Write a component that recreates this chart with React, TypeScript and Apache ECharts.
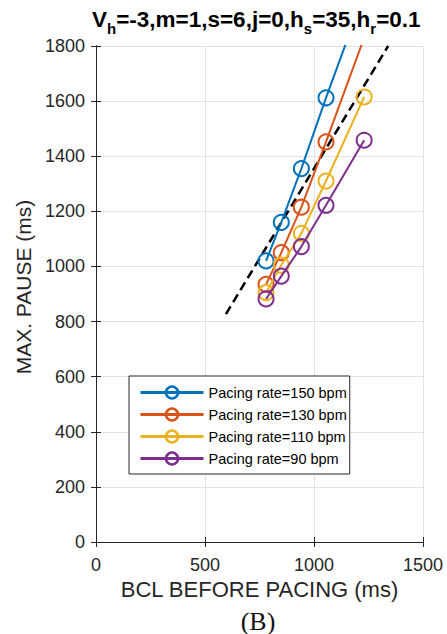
import React, { useEffect, useRef } from "react";
import * as echarts from "echarts";

const bcl = [780, 850, 942, 1055, 1230];
const pause150 = [1020, 1160, 1355, 1612, 1990];
const pause130 = [935, 1050, 1215, 1452, 1830];
const pause110 = [905, 1005, 1120, 1310, 1615];
const pause90 = [882, 965, 1072, 1222, 1458];
const fitX = [596, 1340];
const fitY = [827, 1800];
const seriesNames = [
  "Pacing rate=150 bpm",
  "Pacing rate=130 bpm",
  "Pacing rate=110 bpm",
  "Pacing rate=90 bpm",
];
const colors = ["#0072BD", "#D95319", "#EDB120", "#7E2F8E"];
const xTicks = { min: 0, max: 1500, interval: 500 };
const yTicks = { min: 0, max: 1800, interval: 200 };

const FONT = "'Liberation Sans', Arial, Helvetica, sans-serif";
const AX = "#262626";

export default function App() {
  const ref = useRef<HTMLDivElement>(null);
  useEffect(() => {
    if (!ref.current) return;
    const chart = echarts.init(ref.current, null, { renderer: "svg" });
    const values = [pause150, pause130, pause110, pause90];
    const dataSeries = values.map((ys, k) => ({
      name: seriesNames[k],
      type: "line",
      data: bcl.map((x, i) => [x, ys[i]]),
      symbol: "circle",
      symbolSize: 15,
      clip: true,
      itemStyle: { color: "rgba(255,255,255,0)", borderColor: colors[k], borderWidth: 2 },
      lineStyle: { color: colors[k], width: 2 },
      emphasis: { disabled: true },
      silent: true,
      z: 3 + k,
    }));
    const sub = { fontSize: 15, fontWeight: "bold", fontFamily: FONT, color: "#000", lineHeight: 34, verticalAlign: "bottom" };
    const main = { fontSize: 22.5, fontWeight: "bold", fontFamily: FONT, color: "#000", lineHeight: 34, verticalAlign: "middle" };
    const fmt = (v: number) => String(v);
    const option: any = {
      animation: false,
      backgroundColor: "#fff",
      title: {
        text: "{m|V}{s|h}{m|=-3,m=1,s=6,j=0,h}{s|s}{m|=35,h}{s|r}{m|=0.1}",
        left: 87,
        top: -3,
        textStyle: { rich: { m: main, s: sub } },
      },
      grid: { left: 96, right: 24, top: 46, bottom: 92, containLabel: false },
      legend: {
        data: seriesNames,
        orient: "vertical",
        left: 129,
        top: 376,
        width: 207,
        itemWidth: 63,
        itemHeight: 15,
        itemGap: 7,
        padding: [9, 3, 8, 10],
        backgroundColor: "#fff",
        borderColor: AX,
        borderWidth: 1,
        borderRadius: 0,
        lineStyle: { width: 3 },
        itemStyle: { borderWidth: 2.5 },
        textStyle: { fontFamily: FONT, fontSize: 14.5, color: "#000" },
        selectedMode: false,
      },
      xAxis: [
        {
          type: "value",
          ...xTicks,
          position: "bottom",
          name: "BCL BEFORE PACING (ms)",
          nameLocation: "middle",
          nameGap: 36,
          nameTextStyle: { fontFamily: FONT, fontSize: 22, color: AX },
          axisLine: { show: true, lineStyle: { color: AX, width: 1 } },
          axisTick: { show: true, inside: true, length: 5, lineStyle: { color: AX } },
          axisLabel: { fontFamily: FONT, fontSize: 18, color: AX, margin: 14, formatter: fmt },
          splitLine: { show: true, lineStyle: { color: "#e3e3e3", width: 1 } },
        },
        {
          type: "value",
          ...xTicks,
          position: "top",
          axisLine: { show: true, lineStyle: { color: AX, width: 1 } },
          axisTick: { show: true, inside: true, length: 5, lineStyle: { color: AX } },
          axisLabel: { show: false },
          splitLine: { show: false },
        },
      ],
      yAxis: [
        {
          type: "value",
          ...yTicks,
          position: "left",
          axisLine: { show: true, lineStyle: { color: AX, width: 1 } },
          axisTick: { show: true, inside: true, length: 5, lineStyle: { color: AX } },
          axisLabel: { fontFamily: FONT, fontSize: 18, color: AX, margin: 11, formatter: fmt },
          splitLine: { show: true, lineStyle: { color: "#e3e3e3", width: 1 } },
        },
        {
          type: "value",
          ...yTicks,
          position: "right",
          axisLine: { show: true, lineStyle: { color: AX, width: 1 } },
          axisTick: { show: true, inside: true, length: 5, lineStyle: { color: AX } },
          axisLabel: { show: false },
          splitLine: { show: false },
        },
      ],
      graphic: [
        {
          type: "text",
          x: 23,
          y: 287,
          rotation: Math.PI / 2,
          style: {
            text: "MAX. PAUSE (ms)",
            fontFamily: FONT,
            fontSize: 21,
            fill: AX,
            textAlign: "center",
            textVerticalAlign: "middle",
          },
        },
        {
          type: "text",
          x: 258,
          y: 621,
          style: {
            text: "(B)",
            fontFamily: "'Liberation Serif', 'Times New Roman', serif",
            fontSize: 26,
            fill: "#111",
            textAlign: "center",
            textVerticalAlign: "middle",
          },
        },
      ],
      series: [
        {
          name: "fit",
          type: "line",
          data: fitX.map((x, i) => [x, fitY[i]]),
          symbol: "none",
          clip: true,
          lineStyle: { color: "#000", width: 2.5, type: [9, 5] },
          emphasis: { disabled: true },
          silent: true,
          z: 2,
        },
        ...dataSeries,
      ],
    };
    chart.setOption(option);
    return () => chart.dispose();
  }, []);
  return (
    <div
      ref={ref}
      style={{ position: "fixed", left: 0, top: 0, width: 447, height: 634, background: "#fff" }}
    />
  );
}
